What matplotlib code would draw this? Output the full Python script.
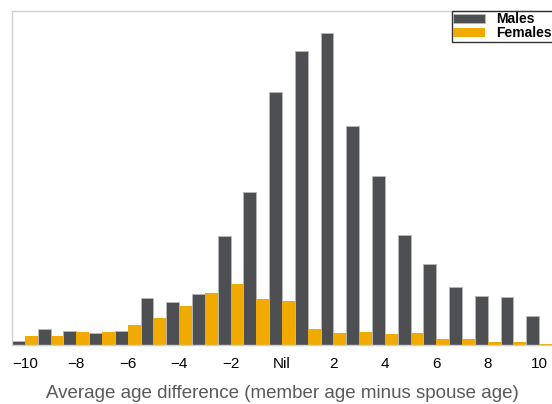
import matplotlib
matplotlib.use("Agg")
import matplotlib.pyplot as plt
import numpy as np

plt.rcParams['font.family'] = ['Liberation Sans', 'DejaVu Sans']

# Age difference categories (member age minus spouse age)
age_diff = list(range(-10, 11))
tick_values = [-10, -8, -6, -4, -2, 0, 2, 4, 6, 8, 10]
tick_labels = ['\u221210', '\u22128', '\u22126', '\u22124', '\u22122', 'Nil',
               '2', '4', '6', '8', '10']

# Share of members (%) by age difference
males = [0.20, 0.80, 0.70, 0.60, 0.72, 2.35, 2.15, 2.55, 5.45, 7.65, 12.65,
         14.68, 15.60, 10.95, 8.45, 5.48, 4.03, 2.90, 2.45, 2.40, 1.45]
females = [0.43, 0.45, 0.65, 0.65, 1.00, 1.33, 1.93, 2.60, 3.05, 2.30, 2.18,
           0.78, 0.60, 0.63, 0.53, 0.60, 0.30, 0.30, 0.15, 0.17, 0.05]

male_color = '#4e4f53'
female_color = '#f0aa00'

fig = plt.figure(figsize=(5.52, 4.04), dpi=100)
ax = fig.add_axes([12 / 552, 59 / 404, 540 / 552, 334 / 404])

x = np.array(age_diff)
ax.bar(x, males, width=-0.5, align='edge', color=male_color,
       edgecolor='#b8b8b8', linewidth=0.6, label='Males')
ax.bar(x, females, width=0.5, align='edge', color=female_color,
       linewidth=0, label='Females')

ax.set_xlim(-10.5, 10.5)
ax.set_ylim(0, 16.7)
ax.set_yticks([])
ax.set_xticks(tick_values)
ax.set_xticklabels(tick_labels, fontsize=11)
ax.tick_params(axis='x', length=0, pad=9, colors='black')

for side in ['left', 'top', 'bottom']:
    ax.spines[side].set_color('#d0d0d0')
    ax.spines[side].set_linewidth(1.0)
ax.spines['right'].set_visible(False)

ax.set_xlabel('Average age difference (member age minus spouse age)',
              fontsize=13.5, color='#595959', labelpad=9.5)

leg = ax.legend(loc='upper left', bbox_to_anchor=(452 / 552, 1 - 11 / 404),
                bbox_transform=fig.transFigure, frameon=True, fancybox=False,
                prop={'weight': 'bold', 'size': 10}, handlelength=2.3,
                handleheight=0.55, borderpad=0.1, labelspacing=0.0,
                handletextpad=0.75, borderaxespad=0)
leg.get_frame().set_edgecolor('black')
leg.get_frame().set_linewidth(1.0)

fig.savefig('out.png', dpi=100)
